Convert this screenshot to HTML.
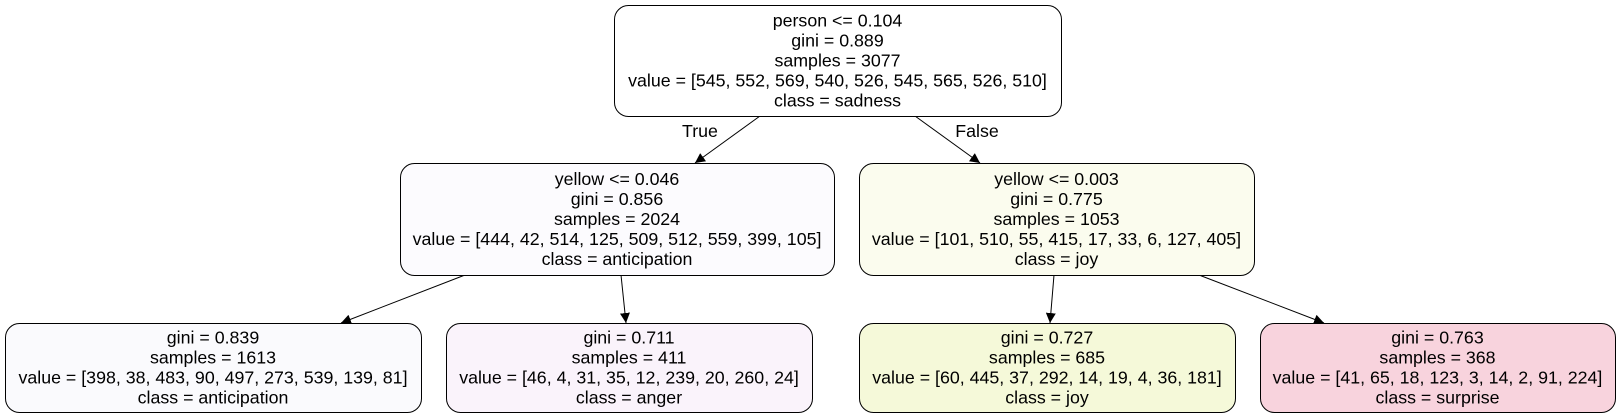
<!DOCTYPE html>
<html><head><meta charset="utf-8"><style>
html,body{margin:0;padding:0;background:#fff;}
svg{display:block;}
text{font-family:"Liberation Sans",Helvetica,Arial,sans-serif;font-size:17.8px;fill:#000;}
</style></head><body>
<svg width="1621" height="419" viewBox="0 0 1621 419">
<defs><marker id="ah" viewBox="0 0 10 10" refX="10" refY="5" markerWidth="10" markerHeight="10" markerUnits="userSpaceOnUse" orient="auto"><path d="M0,0 L10,5 L0,10 z" fill="#000"/></marker></defs>
<g id="edges"></g>
<g id="nodes"></g>
</svg>
<script>
const nodeLines = [
 ["person <= 0.104","gini = 0.889","samples = 3077","value = [545, 552, 569, 540, 526, 545, 565, 526, 510]","class = sadness"],
 ["yellow <= 0.046","gini = 0.856","samples = 2024","value = [444, 42, 514, 125, 509, 512, 559, 399, 105]","class = anticipation"],
 ["yellow <= 0.003","gini = 0.775","samples = 1053","value = [101, 510, 55, 415, 17, 33, 6, 127, 405]","class = joy"],
 ["gini = 0.839","samples = 1613","value = [398, 38, 483, 90, 497, 273, 539, 139, 81]","class = anticipation"],
 ["gini = 0.711","samples = 411","value = [46, 4, 31, 35, 12, 239, 20, 260, 24]","class = anger"],
 ["gini = 0.727","samples = 685","value = [60, 445, 37, 292, 14, 19, 4, 36, 181]","class = joy"],
 ["gini = 0.763","samples = 368","value = [41, 65, 18, 123, 3, 14, 2, 91, 224]","class = surprise"]
];
const nodeNames = ["root-node","node-yellow-046","node-yellow-003","leaf-anticipation","leaf-anger","leaf-joy","leaf-surprise"];
const nodeFills = ["#ffffff","#fcfbfe","#fbfcee","#fafafd","#faf3fb","#f5f9d9","#f8d3dd"];
const nodeBoxes = [[614,5,1061,116],[400,163,834,275],[859,163,1254,275],[5,323,421,412],[446,323,812,412],[859,323,1235,412],[1260,323,1615,412]];
const edges = [[760,116,695,163],[915,116,980,163],[465,275,341,323],[621,275,626,323],[1054,275,1050,323],[1199,275,1324,323]];
const NS="http://www.w3.org/2000/svg";
const eg=document.getElementById('edges'), ng=document.getElementById('nodes');
edges.forEach((e,i)=>{
 const l=document.createElementNS(NS,'line');
 l.setAttribute('x1',e[0]);l.setAttribute('y1',e[1]);l.setAttribute('x2',e[2]);l.setAttribute('y2',e[3]);
 l.setAttribute('stroke','#000');l.setAttribute('stroke-width','1');l.setAttribute('marker-end','url(#ah)');
 
 
 eg.appendChild(l);
});
[["True",700,137],["False",977,137]].forEach(t=>{
 const tx=document.createElementNS(NS,'text');
 tx.setAttribute('x',t[1]);tx.setAttribute('y',t[2]);tx.setAttribute('text-anchor','middle');tx.textContent=t[0];
 
 
 eg.appendChild(tx);
});
nodeBoxes.forEach((b,i)=>{
 const g=document.createElementNS(NS,'g');
 
 
 const r=document.createElementNS(NS,'rect');
 r.setAttribute('x',b[0]+0.5);r.setAttribute('y',b[1]+0.5);r.setAttribute('width',b[2]-b[0]);r.setAttribute('height',b[3]-b[1]);
 r.setAttribute('rx',14);r.setAttribute('fill',nodeFills[i]);r.setAttribute('stroke','#000');
 g.appendChild(r);
 const lines=nodeLines[i], cx=(b[0]+b[2])/2, cy=(b[1]+b[3])/2, lh=19.9;
 const y0=cy-(lines.length-1)*lh/2;
 lines.forEach((s,j)=>{
  const tx=document.createElementNS(NS,'text');
  tx.setAttribute('x',cx);tx.setAttribute('y',y0+j*lh+6);tx.setAttribute('text-anchor','middle');
  tx.textContent=s;
  g.appendChild(tx);
 });
 ng.appendChild(g);
});
</script>
</body></html>
